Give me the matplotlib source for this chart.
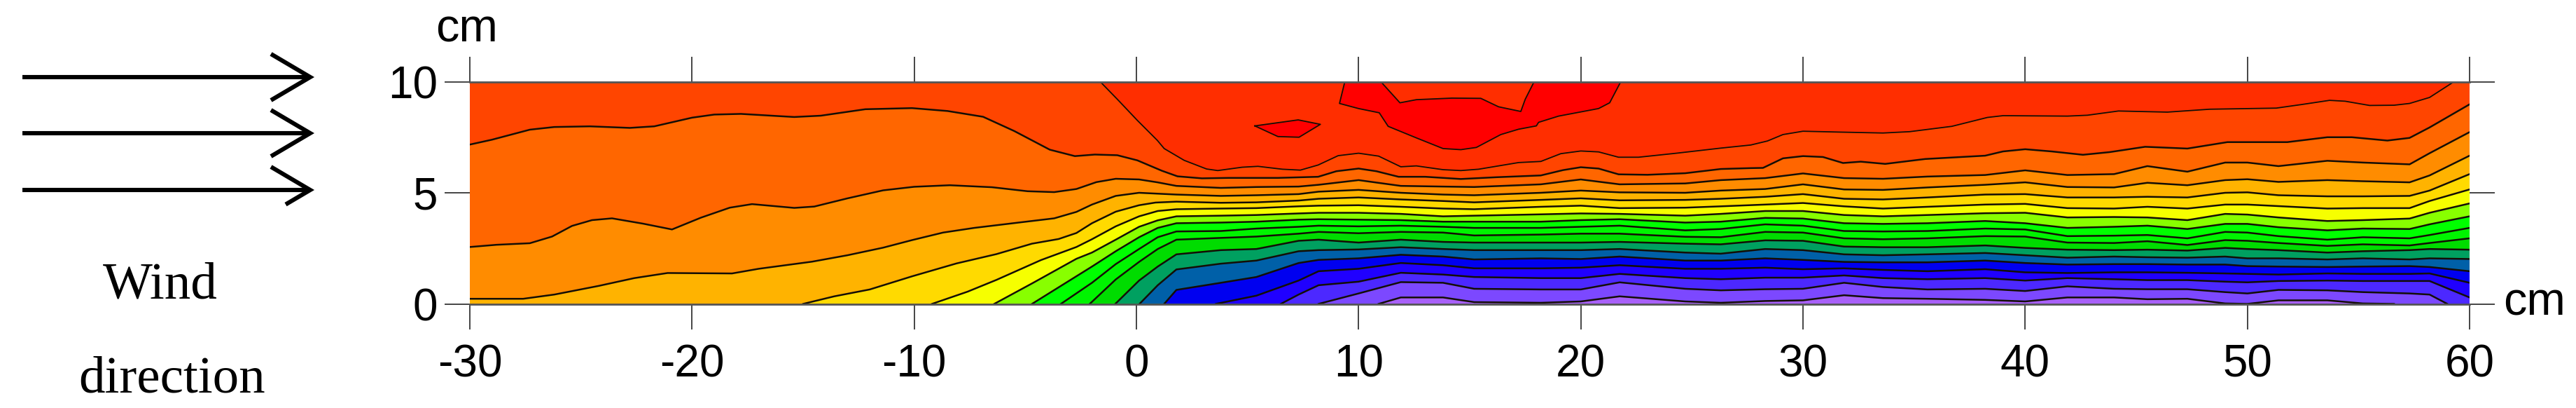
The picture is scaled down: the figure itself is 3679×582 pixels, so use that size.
import matplotlib
matplotlib.use("Agg")
import matplotlib.pyplot as plt

W, H = 3679, 582

# stations shared by the contour lines right of the plume edge (cm)
MID_X = [1.8, 3.8, 5.4, 7.3, 8.2, 10, 11.9, 13.8, 15.2, 18.2, 20, 21.75, 24.7, 26.3, 28.3, 30, 31.85,
         33.6, 35.6, 38.2, 40, 41.9, 44, 45.5, 47.3, 49, 50, 51.4, 53.6, 55.2, 57.3, 58.2, 60]

# contour lines, top to bottom
A_X = [-1.63, -0.86, 0.04, 0.94, 1.25, 2.15, 3.16, 3.66, 4.76, 5.47, 6.57, 7.38, 8.18, 9.08, 10, 10.9, 11.9,
       12.6, 13.8, 14.6, 15.4, 17.2, 18.2, 19.1, 20, 20.8, 21.7, 22.6, 24.3, 26.3, 27.65, 28.4, 29.1, 30, 31.7,
       33.6, 34.8, 36.7, 38.3, 39, 41.9, 42.8, 44.2, 46.4, 48.3, 51.3, 52.5, 53.7, 54.4, 55.5, 56.6, 57.3, 58.2, 59.3]
A_Y = [10, 9.21, 8.26, 7.36, 6.99, 6.46, 6.07, 6.0, 6.15, 6.19, 6.06, 6.02, 6.25, 6.67, 6.78, 6.65, 6.17,
       6.21, 6.04, 6.0, 6.06, 6.36, 6.41, 6.76, 6.88, 6.84, 6.6, 6.6, 6.78, 7.01, 7.15, 7.33, 7.62, 7.77, 7.73,
       7.69, 7.75, 7.99, 8.39, 8.47, 8.45, 8.49, 8.68, 8.63, 8.76, 8.81, 8.98, 9.16, 9.12, 8.93, 8.94, 9.02, 9.29, 10]

B_X = [-30, -29, -27.3, -26.2, -24.6, -22.8, -21.7, -20, -19, -17.8, -15.4, -14.2, -12.2, -10.1, -8.5, -6.9,
       -5.5, -4.7, -3.9, -2.77, -1.87, -0.86, 0.04, 1.15, 1.85, 2.95, 4.16, 6.37, 8.18, 9, 10, 10.8, 11.8, 13,
       14.6, 16.2, 18.2, 19.2, 20, 20.8, 21.7, 23, 24.7, 26.3, 27.65, 28.2, 29.1, 30, 30.9, 31.8, 32.6, 33.7,
       35.5, 38.2, 39, 40, 41.2, 42.6, 43.8, 45.4, 47.3, 49.1, 51.8, 53.6, 54.7, 56.3, 57.3, 58.2, 60]
B_Y = [7.17, 7.39, 7.84, 7.96, 7.99, 7.92, 7.99, 8.38, 8.52, 8.55, 8.41, 8.47, 8.76, 8.81, 8.68, 8.42,
       7.78, 7.36, 6.94, 6.65, 6.72, 6.69, 6.46, 5.99, 5.74, 5.65, 5.67, 5.67, 5.72, 5.97, 6.09, 5.97, 5.72, 5.72,
       5.62, 5.7, 5.78, 6.02, 6.15, 6.09, 5.83, 5.81, 5.88, 6.07, 6.11, 6.12, 6.55, 6.65, 6.61, 6.34, 6.4, 6.3,
       6.52, 6.67, 6.86, 6.96, 6.86, 6.71, 6.83, 7.07, 6.99, 7.28, 7.28, 7.5, 7.5, 7.35, 7.47, 7.94, 8.98]

C_LEFT_X = [-30, -28.8, -27.3, -26.3, -25.4, -24.5, -23.6, -22.2, -20.9, -19.6, -18.3, -17.3, -15.4, -14.5, -13,
            -11.4, -10, -8.4, -6.5, -4.9, -3.7, -2.7, -1.8, -0.93, 0.12, 0.95]
C_LEFT_Y = [2.56, 2.66, 2.73, 3.03, 3.51, 3.77, 3.85, 3.61, 3.35, 3.88, 4.33, 4.49, 4.32, 4.38, 4.75,
            5.11, 5.27, 5.34, 5.25, 5.07, 5.03, 5.17, 5.48, 5.63, 5.6, 5.47]
C_Y = [5.31, 5.22, 5.26, 5.28, 5.36, 5.57, 5.31, 5.28, 5.26, 5.38, 5.6, 5.38, 5.42, 5.57, 5.66, 5.87, 5.66,
       5.63, 5.73, 5.8, 6.01, 5.8, 5.84, 6.2, 5.95, 6.36, 6.36, 6.2, 6.44, 6.36, 6.28, 6.78, 7.73]

D_LEFT_X = [-30, -27.6, -26.2, -24.2, -22.6, -21.1, -18.2, -17, -14.6, -13, -11.4, -10.1, -8.7, -7.3, -5.3, -3.7,
            -2.7, -2, -0.93, 0.12]
D_LEFT_Y = [0.23, 0.23, 0.42, 0.81, 1.16, 1.39, 1.37, 1.58, 1.9, 2.19, 2.53, 2.87, 3.21, 3.42, 3.66, 3.85,
            4.14, 4.47, 4.86, 5.0]
D_Y = [4.92, 4.86, 4.89, 4.94, 5.05, 5.13, 5.0, 4.92, 4.89, 5.0, 5.1, 5.02, 5.0, 5.1, 5.17, 5.38, 5.15,
       5.13, 5.24, 5.36, 5.47, 5.26, 5.24, 5.45, 5.34, 5.57, 5.61, 5.49, 5.57, 5.52, 5.47, 5.78, 6.67]

E_LEFT_X = [-15, -13.6, -12, -10.1, -8.1, -6.3, -4.7, -3.5, -2.7, -2, -0.93, 0.12, 0.86]
E_LEFT_Y = [0, 0.34, 0.65, 1.24, 1.82, 2.24, 2.71, 2.92, 3.19, 3.63, 4.15, 4.44, 4.56]
E_Y = [4.6, 4.55, 4.57, 4.65, 4.73, 4.79, 4.7, 4.63, 4.57, 4.68, 4.75, 4.66, 4.68, 4.73, 4.82, 4.94, 4.73,
       4.7, 4.79, 4.92, 4.94, 4.79, 4.79, 4.82, 4.79, 5.0, 5.02, 4.89, 4.84, 4.84, 4.86, 5.1, 5.84]

F_LEFT_X = [-9.2, -7.6, -6.3, -4.3, -2.7, -2, -0.93, 0.12, 0.96]
F_LEFT_Y = [0, 0.55, 1.08, 1.97, 2.56, 2.91, 3.49, 3.94, 4.18]
F_Y = [4.26, 4.29, 4.31, 4.39, 4.42, 4.44, 4.37, 4.29, 4.26, 4.37, 4.42, 4.31, 4.33, 4.39, 4.47, 4.54, 4.39,
       4.29, 4.37, 4.47, 4.5, 4.31, 4.29, 4.37, 4.29, 4.47, 4.47, 4.4, 4.29, 4.31, 4.31, 4.63, 5.15]

G_LEFT_X = [-6.4, -4.7, -2.7, -2, -0.93, 0.12, 0.96]
G_LEFT_Y = [0, 0.92, 2.03, 2.31, 2.89, 3.47, 3.76]
G_Y = [3.94, 3.97, 4.0, 4.07, 4.1, 4.1, 4.05, 3.94, 3.97, 4.03, 4.07, 4.05, 3.97, 4.05, 4.18, 4.18, 4.0,
       3.94, 4.0, 4.08, 4.1, 3.89, 3.91, 3.89, 3.77, 4.05, 4.02, 3.89, 3.73, 3.77, 3.84, 4.1, 4.52]

H_LEFT_X = [-4.7, -2, -0.93, 0.12, 0.96]
H_LEFT_Y = [0, 1.68, 2.37, 3.0, 3.42]
H_Y = [3.63, 3.66, 3.7, 3.79, 3.81, 3.79, 3.77, 3.7, 3.7, 3.7, 3.77, 3.81, 3.66, 3.7, 3.87, 3.84, 3.63,
       3.6, 3.63, 3.73, 3.63, 3.42, 3.47, 3.52, 3.37, 3.6, 3.6, 3.45, 3.31, 3.39, 3.37, 3.58, 3.94]

I_LEFT_X = [-3.4, -2, -0.93, 0.12, 0.96]
I_LEFT_Y = [0, 0.95, 1.79, 2.47, 3.0]
I_Y = [3.26, 3.28, 3.39, 3.47, 3.52, 3.49, 3.52, 3.47, 3.42, 3.42, 3.47, 3.52, 3.31, 3.37, 3.58, 3.52, 3.28,
       3.26, 3.28, 3.39, 3.35, 3.05, 3.07, 3.1, 2.95, 3.24, 3.21, 3.05, 2.89, 3.0, 2.95, 3.1, 3.42]

J_LEFT_X = [-2.1, -0.93, 0.12, 0.96]
J_LEFT_Y = [0, 1.1, 1.89, 2.47]
J_Y = [2.89, 2.97, 3.03, 3.16, 3.24, 3.18, 3.24, 3.21, 3.08, 3.12, 3.16, 3.16, 3.02, 3.0, 3.24, 3.21, 2.95,
       2.91, 2.95, 3.05, 3.03, 2.76, 2.74, 2.82, 2.65, 2.87, 2.84, 2.74, 2.61, 2.68, 2.63, 2.74, 2.95]

K_LEFT_X = [-0.95, 0.12, 0.96]
K_LEFT_Y = [0, 1.05, 1.68]
K_Y = [2.23, 2.42, 2.47, 2.84, 2.89, 2.76, 2.89, 2.79, 2.76, 2.76, 2.76, 2.79, 2.71, 2.68, 2.86, 2.84, 2.58,
       2.55, 2.55, 2.63, 2.52, 2.44, 2.42, 2.44, 2.4, 2.52, 2.47, 2.42, 2.31, 2.37, 2.42, 2.47, 2.44]

L_LEFT_X = [0.14, 0.96]
L_LEFT_Y = [0, 0.84]
L_Y = [1.55, 1.81, 1.95, 2.37, 2.42, 2.45, 2.55, 2.47, 2.42, 2.42, 2.42, 2.47, 2.31, 2.26, 2.47, 2.42, 2.23,
       2.19, 2.23, 2.29, 2.19, 2.08, 2.13, 2.1, 2.08, 2.13, 2.05, 2.05, 2.0, 2.05, 2.0, 2.05, 2.02]

M_LEFT_X = [1.25]
M_LEFT_Y = [0]
M_Y = [0.63, 0.95, 1.21, 1.84, 1.98, 2.05, 2.21, 2.13, 2.0, 2.05, 2.02, 2.13, 1.95, 1.95, 2.05, 1.98, 1.89,
       1.87, 1.87, 1.95, 1.84, 1.77, 1.79, 1.79, 1.77, 1.77, 1.7, 1.68, 1.66, 1.68, 1.7, 1.66, 1.47]

N_Y = [0.37, 1.05, 1.47, 1.58, 1.84, 1.74, 1.6, 1.6, 1.63, 1.74, 1.58, 1.58, 1.63, 1.56, 1.6, 1.53,
       1.47, 1.56, 1.42, 1.39, 1.42, 1.42, 1.4, 1.37, 1.35, 1.32, 1.37, 1.35, 1.35, 1.37, 0.95]
O_Y = [0.42, 0.84, 1.0, 1.4, 1.32, 1.21, 1.16, 1.16, 1.35, 1.16, 1.11, 1.18, 1.18, 1.28, 1.16,
       1.11, 1.16, 1.05, 1.16, 1.11, 1.07, 1.07, 1.0, 0.97, 1.03, 1.05, 1.03, 1.03, 1.03, 0.29]
P_Y = [0.47, 0.98, 0.95, 0.68, 0.65, 0.65, 0.97, 0.68, 0.61, 0.66, 0.68, 0.95, 0.76, 0.65,
       0.68, 0.58, 0.79, 0.68, 0.66, 0.66, 0.53, 0.47, 0.63, 0.61, 0.53, 0.47, 0.42]
Q_Y = [0.29, 0.29, 0.08, 0.05, 0.11, 0.34, 0.11, 0.05, 0.13, 0.16, 0.39, 0.26, 0.23,
       0.18, 0.11, 0.29, 0.29, 0.21, 0.23, 0.02, 0, 0.16, 0.16, 0.02]

# closed patches of the highest level near the top
BLOB_X = [9.38, 9.14, 10, 10.93, 11.33, 12.6, 13.8, 14.6, 15.3, 16.4, 17.2, 18, 18.1, 19, 20.8, 21.3, 21.8]
BLOB_Y = [10, 9.02, 8.79, 8.6, 7.99, 7.47, 6.99, 6.94, 7.04, 7.62, 7.86, 8.01, 8.17, 8.45, 8.79, 9.05, 10]
NOTCH_X = [11, 11.86, 12.6, 14.2, 15.5, 16.3, 17.3, 17.5, 17.9]
NOTCH_Y = [10, 9.05, 9.19, 9.26, 9.25, 8.87, 8.66, 9.21, 10]
SPOT_X = [5.33, 7.28, 8.28, 7.32, 6.37, 5.33]
SPOT_Y = [8.01, 8.28, 8.08, 7.5, 7.53, 8.01]

X_TICKS = [-30, -20, -10, 0, 10, 20, 30, 40, 50, 60]
Y_TICKS = [0, 5, 10]

TOP_RED = "#FF2E00"
PEAK_RED = "#FF0000"
BASE = "#FF4500"
LINE = "#140e05"

# (x, y, colour of the band below the line)
CONTOURS = [
    (B_X, B_Y, "#FF6600"),
    (C_LEFT_X + MID_X, C_LEFT_Y + C_Y, "#FF8C00"),
    (D_LEFT_X + MID_X, D_LEFT_Y + D_Y, "#FFB300"),
    (E_LEFT_X + MID_X, E_LEFT_Y + E_Y, "#FFDA00"),
    (F_LEFT_X + MID_X, F_LEFT_Y + F_Y, "#F6FF00"),
    (G_LEFT_X + MID_X, G_LEFT_Y + G_Y, "#88FF00"),
    (H_LEFT_X + MID_X, H_LEFT_Y + H_Y, "#00FF00"),
    (I_LEFT_X + MID_X, I_LEFT_Y + I_Y, "#00F400"),
    (J_LEFT_X + MID_X, J_LEFT_Y + J_Y, "#00DC00"),
    (K_LEFT_X + MID_X, K_LEFT_Y + K_Y, "#00A060"),
    (L_LEFT_X + MID_X, L_LEFT_Y + L_Y, "#0060A8"),
    (M_LEFT_X + MID_X, M_LEFT_Y + M_Y, "#0000F0"),
    ([3.58] + MID_X[2:], [0] + N_Y, "#2000FF"),
    ([6.5] + MID_X[3:], [0] + O_Y, "#4C28FF"),
    ([8.2] + MID_X[5:32] + [59], [0] + P_Y + [0], "#7C48FF"),
    ([10.9] + MID_X[6:30] + [56.6], [0] + Q_Y + [0], "#A860F8"),
]

plt.rcParams["font.family"] = ["Liberation Sans", "DejaVu Sans"]
plt.rcParams["axes.unicode_minus"] = False

fig = plt.figure(figsize=(W / 100, H / 100), dpi=100)
ax = fig.add_axes([671 / W, 1 - 433.5 / H, (3527 - 671) / W, (433.5 - 116.5) / H])

# bands are painted from the top down, each one covering everything under its line
ax.fill([-30, 60, 60, -30], [0, 0, 10, 10], color=BASE, lw=0, zorder=1)
ax.fill(A_X, A_Y, color=TOP_RED, lw=0, zorder=1)
ax.fill(BLOB_X, BLOB_Y, color=PEAK_RED, lw=0, zorder=1)
ax.fill(NOTCH_X, NOTCH_Y, color=TOP_RED, lw=0, zorder=1)
ax.fill(SPOT_X, SPOT_Y, color=PEAK_RED, lw=0, zorder=1)
for x, y, colour in CONTOURS:
    ax.fill(list(x) + [x[-1], x[0]], list(y) + [0, 0], color=colour, lw=0, zorder=2)

ax.plot(A_X, A_Y, color=LINE, lw=1.3, zorder=3)
for px, py in [(BLOB_X, BLOB_Y), (NOTCH_X, NOTCH_Y), (SPOT_X, SPOT_Y)]:
    ax.plot(px, py, color=LINE, lw=1.3, zorder=3)
for x, y, colour in CONTOURS:
    ax.plot(x, y, color=LINE, lw=1.8, zorder=3)

ax.set_xlim(-30, 60)
ax.set_ylim(0, 10)
ax.set_xticks(X_TICKS)
ax.set_yticks(Y_TICKS)
ax.tick_params(axis="x", top=True, bottom=True, length=26, width=1.4, color="#444444", pad=15, labelsize=46)
ax.tick_params(axis="y", left=True, right=True, length=26, width=1.4, color="#444444", pad=7, labelsize=46)
for side in ["left", "right"]:
    ax.spines[side].set_visible(False)
for side in ["top", "bottom"]:
    ax.spines[side].set_color("#555555")
    ax.spines[side].set_linewidth(2)
    ax.spines[side].set_zorder(4)

# unit labels, arrows and wind caption sit in picture coordinates
over = fig.add_axes([0, 0, 1, 1], facecolor="none")
over.set_xlim(0, W)
over.set_ylim(H, 0)
over.axis("off")
over.text(667, 43, "cm", ha="center", va="center", fontsize=48)
over.text(3620, 432, "cm", ha="center", va="center", fontsize=48)

for y, low_x in [(110, 387), (190, 387), (271, 408)]:
    over.plot([32, 441], [y, y], color="black", lw=4.4, solid_capstyle="butt")
    drop = (443 - low_x) * 33 / 56
    over.plot([387, 443, low_x], [y - 33, y, y + drop], color="black", lw=4.4,
              solid_joinstyle="miter", solid_capstyle="butt")

over.text(229, 408, "Wind", ha="center", va="center", fontsize=54, family="Liberation Serif")
over.text(246, 542, "direction", ha="center", va="center", fontsize=54, family="Liberation Serif")

fig.savefig("out.png", dpi=100)
